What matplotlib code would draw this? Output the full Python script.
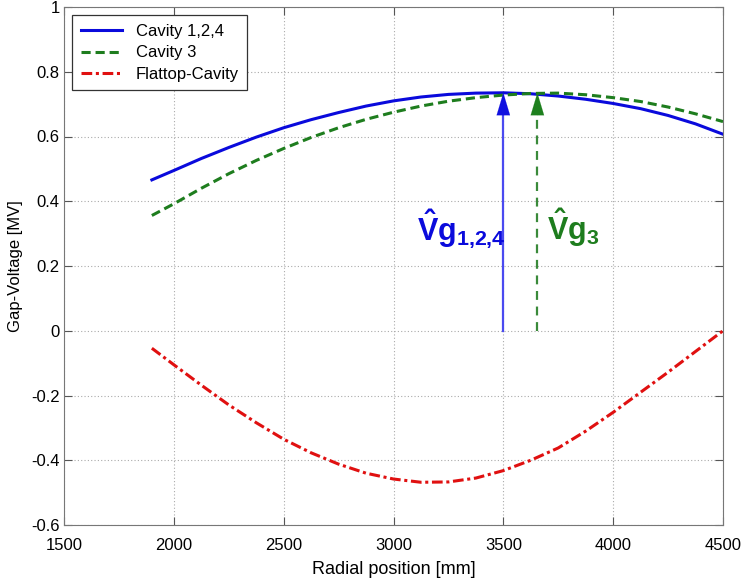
import matplotlib
matplotlib.use("Agg")
import matplotlib.pyplot as plt

# =====================================================
# DATA
# =====================================================

x_blue = [1900, 2000, 2125, 2250, 2375, 2500, 2625, 2750, 2875, 3000, 3125,
          3250, 3375, 3500, 3625, 3750, 3875, 4000, 4125, 4250, 4375, 4500]
y_blue = [0.466, 0.495, 0.532, 0.566, 0.598, 0.627, 0.652, 0.674, 0.694, 0.710, 0.722,
          0.730, 0.734, 0.735, 0.732, 0.725, 0.715, 0.702, 0.686, 0.665, 0.639, 0.607]

x_green = [1900, 2000, 2125, 2250, 2375, 2500, 2625, 2750, 2875, 3000, 3125,
           3250, 3375, 3500, 3625, 3750, 3875, 4000, 4125, 4250, 4375, 4500]
y_green = [0.356, 0.392, 0.440, 0.485, 0.526, 0.563, 0.597, 0.627, 0.653, 0.675, 0.694,
           0.709, 0.720, 0.728, 0.733, 0.734, 0.729, 0.720, 0.708, 0.691, 0.670, 0.646]

x_red = [1900, 2000, 2125, 2250, 2375, 2500, 2625, 2750, 2875, 3000, 3125,
         3250, 3375, 3500, 3625, 3750, 3875, 4000, 4125, 4250, 4375, 4500]
y_red = [-0.054, -0.105, -0.168, -0.229, -0.284, -0.335, -0.377, -0.412, -0.440, -0.458, -0.468,
         -0.467, -0.455, -0.432, -0.400, -0.362, -0.310, -0.252, -0.190, -0.128, -0.064, 0.0]

labels = ["Cavity 1,2,4", "Cavity 3", "Flattop-Cavity"]

peak_blue_x, peak_blue_y = 3500, 0.735
peak_green_x, peak_green_y = 3655, 0.735

xticks = [1500, 2000, 2500, 3000, 3500, 4000, 4500]
yticks = [-0.6, -0.4, -0.2, 0, 0.2, 0.4, 0.6, 0.8, 1]
yticklabels = ["-0.6", "-0.4", "-0.2", "0", "0.2", "0.4", "0.6", "0.8", "1"]

# =====================================================
# STYLE
# =====================================================

plt.rcParams["font.family"] = ["Liberation Sans", "DejaVu Sans"]
plt.rcParams["mathtext.fontset"] = "custom"
plt.rcParams["mathtext.rm"] = "Liberation Sans"
plt.rcParams["mathtext.bf"] = "Liberation Sans:bold"
plt.rcParams["mathtext.it"] = "Liberation Sans:italic"

c_blue = "#0a0adc"
c_green = "#1e7d1e"
c_red = "#e01010"

fig = plt.figure(figsize=(7.43, 5.83), dpi=100)
ax = fig.add_axes([64 / 743, 1 - 525 / 583, 659 / 743, 518 / 583])

ax.plot(x_blue, y_blue, color=c_blue, lw=2.2, label=labels[0])
ax.plot(x_green, y_green, color=c_green, lw=2.2, ls=(0, (3, 1.6)), label=labels[1])
ax.plot(x_red, y_red, color=c_red, lw=2.2, ls=(0, (3.5, 1.2, 1, 1.2)), label=labels[2])

# =====================================================
# PANAH KE TEGANGAN PUNCAK
# =====================================================

head_len = 0.07
ax.plot([peak_blue_x, peak_blue_x], [0, peak_blue_y - head_len / 2],
        color="#4a4af0", lw=1.6)
ax.plot([peak_green_x, peak_green_x], [0, peak_green_y - head_len / 2],
        color="#3a8a3a", lw=1.6, ls=(0, (4, 3)))

ax.annotate("", xy=(peak_blue_x, peak_blue_y), xytext=(peak_blue_x, peak_blue_y - head_len),
            arrowprops=dict(arrowstyle="-|>,head_length=1.0,head_width=0.3",
                            color="#1010e0", lw=0.1, mutation_scale=16,
                            shrinkA=0, shrinkB=0))
ax.annotate("", xy=(peak_green_x, peak_green_y), xytext=(peak_green_x, peak_green_y - head_len),
            arrowprops=dict(arrowstyle="-|>,head_length=1.0,head_width=0.3",
                            color="#1e801e", lw=0.1, mutation_scale=16,
                            shrinkA=0, shrinkB=0))

ax.text(3108, 0.28, r"$\mathbf{\hat{V}g_{1{,}2{,}4}}$", color=c_blue, fontsize=22)
ax.text(3700, 0.28, r"$\mathbf{\hat{V}g_{3}}$", color=c_green, fontsize=22)

# =====================================================
# SUMBU
# =====================================================

ax.set_xlim(1500, 4500)
ax.set_ylim(-0.6, 1)
ax.set_xticks(xticks)
ax.set_yticks(yticks)
ax.set_yticklabels(yticklabels)
ax.tick_params(direction="in", top=True, right=True, labelsize=12, length=6,
               color="#555555")
ax.tick_params(axis="x", pad=9)
ax.tick_params(axis="y", pad=3)
ax.grid(True, ls=(0, (1, 2)), color="#aaaaaa", lw=0.8)

for s in ax.spines.values():
    s.set_color("#777777")

ax.set_xlabel("Radial position [mm]", fontsize=13, labelpad=6)
ax.set_ylabel("Gap-Voltage [MV]", fontsize=12, labelpad=6)

leg = ax.legend(loc="upper left", fontsize=12, fancybox=False, edgecolor="#333333",
                framealpha=1, handlelength=2.5, borderpad=0.5, labelspacing=0.4)
leg.get_frame().set_linewidth(0.9)

fig.savefig("out.png", dpi=100)
